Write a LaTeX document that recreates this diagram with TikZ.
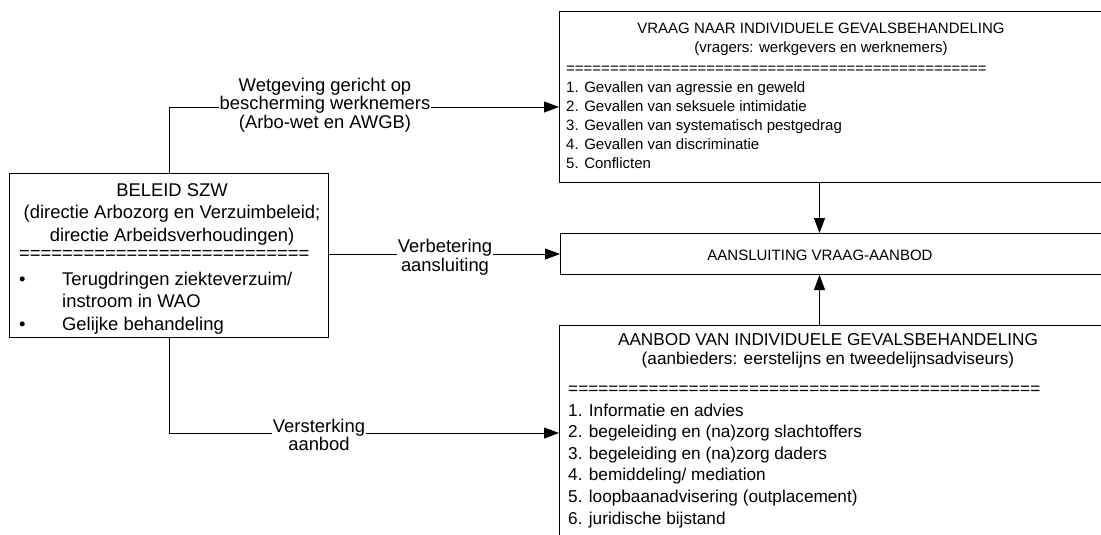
\documentclass[tikz,border=0pt]{standalone}
\usepackage{fontspec}
\setmainfont{Liberation Sans}
\usetikzlibrary{arrows.meta}

\tikzset{
	kader/.style={draw, line width=1pt, anchor=north west, inner sep=0pt},
	tekst/.style={inner sep=0pt},
	vraagfont/.style={font=\fontsize{15}{19}\selectfont},
	aanbodfont/.style={font=\fontsize{17.2}{21.6}\selectfont},
	beleidfont/.style={font=\fontsize{18.4}{22.5}\selectfont},
	etiket/.style={fill=white, inner sep=1pt, align=center, font=\fontsize{18.4}{18.5}\selectfont},
	pijl/.style={line width=0.9pt, -{Triangle[length=15pt,width=11pt]}},
}

\begin{document}
\begin{tikzpicture}[x=1pt, y=-1pt]
		\clip (0,0) rectangle (1101,535);
		% kaders
		\node[kader, minimum width=319pt, minimum height=164pt] (beleid) at (9,173) {};
		\node[kader, minimum width=560pt, minimum height=171pt] (vraag) at (559,11) {};
		\node[kader, minimum width=560pt, minimum height=41pt] (aansl) at (560,233) {};
		\node[kader, minimum width=560pt, minimum height=240pt] (aanbod) at (559,325) {};
		% teksten
		\node[tekst, beleidfont, align=center, anchor=base] (beleidkop) at (172,241) {BELEID SZW\\(directie Arbozorg en Verzuimbeleid;\\directie Arbeidsverhoudingen)};
		\node[tekst, beleidfont, align=left, anchor=base west] (beleidlijst) at (19,330) {===========================\\[3pt]\makebox[43pt][l]{\textbullet}Terugdringen ziekteverzuim/\\\hspace*{43pt}instroom in WAO\\\makebox[43pt][l]{\textbullet}Gelijke behandeling};
		\node[tekst, vraagfont, align=center, anchor=base] (vraagkop) at (821,53) {VRAAG NAAR INDIVIDUELE GEVALSBEHANDELING\\(vragers: werkgevers en werknemers)};
		\node[tekst, vraagfont, align=left, anchor=base west] (vraaglijst) at (566,168) {================================================\\1. Gevallen van agressie en geweld\\2. Gevallen van seksuele intimidatie\\3. Gevallen van systematisch pestgedrag\\4. Gevallen van discriminatie\\5. Conflicten};
		\node[tekst, vraagfont, anchor=base] (aanslkop) at (820,260) {AANSLUITING VRAAG-AANBOD};
		\node[tekst, font=\fontsize{17.2}{19}\selectfont, align=center, anchor=base] (aanbodkop) at (828,364) {AANBOD VAN INDIVIDUELE GEVALSBEHANDELING\\(aanbieders: eerstelijns en tweedelijnsadviseurs)};
		\node[tekst, aanbodfont, align=left, anchor=base west] (aanbodlijst) at (568,524) {===============================================\\1. Informatie en advies\\2. begeleiding en (na)zorg slachtoffers\\3. begeleiding en (na)zorg daders\\4. bemiddeling/ mediation\\5. loopbaanadvisering (outplacement)\\6. juridische bijstand};
		% verbindingen
		\coordinate (wetin) at (559,107);
		\coordinate (versin) at (559,433);
		\draw[pijl] (beleid.north) |- (wetin);
		\draw[pijl] (beleid.east |- aansl.west) -- (aansl.west);
		\draw[pijl] (beleid.south) |- (versin);
		\draw[pijl] ([xshift=-20pt]vraag.south) -- ([xshift=-21pt]aansl.north);
		\draw[pijl] ([xshift=-20pt]aanbod.north) -- ([xshift=-21pt]aansl.south);
		\node[etiket] (wetlabel) at (325,105) {Wetgeving gericht op\\bescherming werknemers\\(Arbo-wet en AWGB)};
		\node[etiket] (verblabel) at (445,257) {Verbetering\\aansluiting};
		\node[etiket] (verslabel) at (319,435) {Versterking\\aanbod};
	\end{tikzpicture}
\end{document}
